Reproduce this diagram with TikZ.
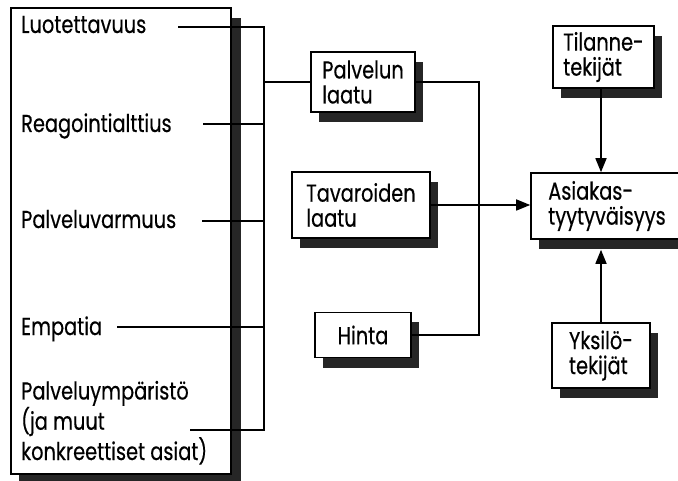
\documentclass[tikz,border=0pt]{standalone}
\usepackage{fontspec}
\setmainfont{Poppins}[FakeStretch=0.79,FakeBold=0.4]
\usetikzlibrary{shadows,arrows.meta}
\begin{document}
\begin{tikzpicture}[x=1pt,y=1pt,
  every node/.style={font=\fontsize{24.5}{25}\selectfont},
  ln/.style={line width=1.6pt},
  shd/.style={drop shadow={shadow xshift=#1, shadow yshift=-10pt, fill=black!85, opacity=1}},
  shd/.default=8pt,
  box/.style={draw, line width=1.6pt, fill=white, align=left, inner sep=0pt, shd},
  lbl/.style={anchor=base west, inner sep=0pt, align=left},
  arr/.style={ln, -{Triangle[length=14pt,width=11pt]}}
]
\useasboundingbox (0,0) rectangle (678,-481);
\clip (0,0) rectangle (678,-481);

% frame holding the five quality dimensions
\node[box, shd=10pt, minimum width=220, minimum height=466, anchor=north west] (frame) at (10,-7) {};
\node[lbl] (luo) at (21,-33) {Luotettavuus};
\node[lbl] (rea) at (21,-132) {Reagointialttius};
\node[lbl] (pva) at (21,-228) {Palveluvarmuus};
\node[lbl] (emp) at (21,-335) {Empatia};
\node[lbl] (ymp) at (21,-460) {Palveluympäristö\\(ja muut\\konkreettiset asiat)};

% middle column
\node[box, minimum width=104, minimum height=60] (pal) at (363,-82) {Palvelun\\laatu};
\node[box, minimum width=138, minimum height=66] (tav) at (361,-205) {Tavaroiden\\laatu};
\node[box, minimum width=96, minimum height=45] (hin) at (363,-335) {Hinta};

% right column
\node[box, minimum width=101, minimum height=62] (til) at (603.5,-57) {Tilanne-\\tekijät};
\node[box, minimum width=152, minimum height=66] (asi) at (607,-206) {Asiakas-\\tyytyväisyys};
\node[box, minimum width=98, minimum height=65] (yks) at (601,-355.5) {Yksilö-\\tekijät};

% helper coordinates
\coordinate (bx) at (264,0);
\coordinate (jx) at (479,0);
\coordinate (ax) at (601,0);
\coordinate (s1) at (178,-27);
\coordinate (s2) at (203,-124);
\coordinate (s3) at (202,-221);
\coordinate (s4) at (117,-327);
\coordinate (s5) at (190,-430);
\coordinate (asb) at ([yshift=-10pt]asi.south);

% bracket collecting the dimensions
\draw[ln] (s1) -- (s1 -| bx) -- (s5 -| bx) -- (s5);
\draw[ln] (s2) -- (s2 -| bx);
\draw[ln] (s3) -- (s3 -| bx);
\draw[ln] (s4) -- (s4 -| bx);
\draw[ln] (pal.west -| bx) -- (pal.west);

% service quality and price joined into the goods line
\draw[ln] (pal.east) -| (jx |- hin.east) -- (hin.east);
\draw[arr] (tav.east) -- (tav.east -| asi.west);

% situational and personal factors
\draw[arr] (til.south -| ax) -- (asi.north -| ax);
\draw[arr] (yks.north -| ax) -- (asb -| ax);
\end{tikzpicture}
\end{document}
